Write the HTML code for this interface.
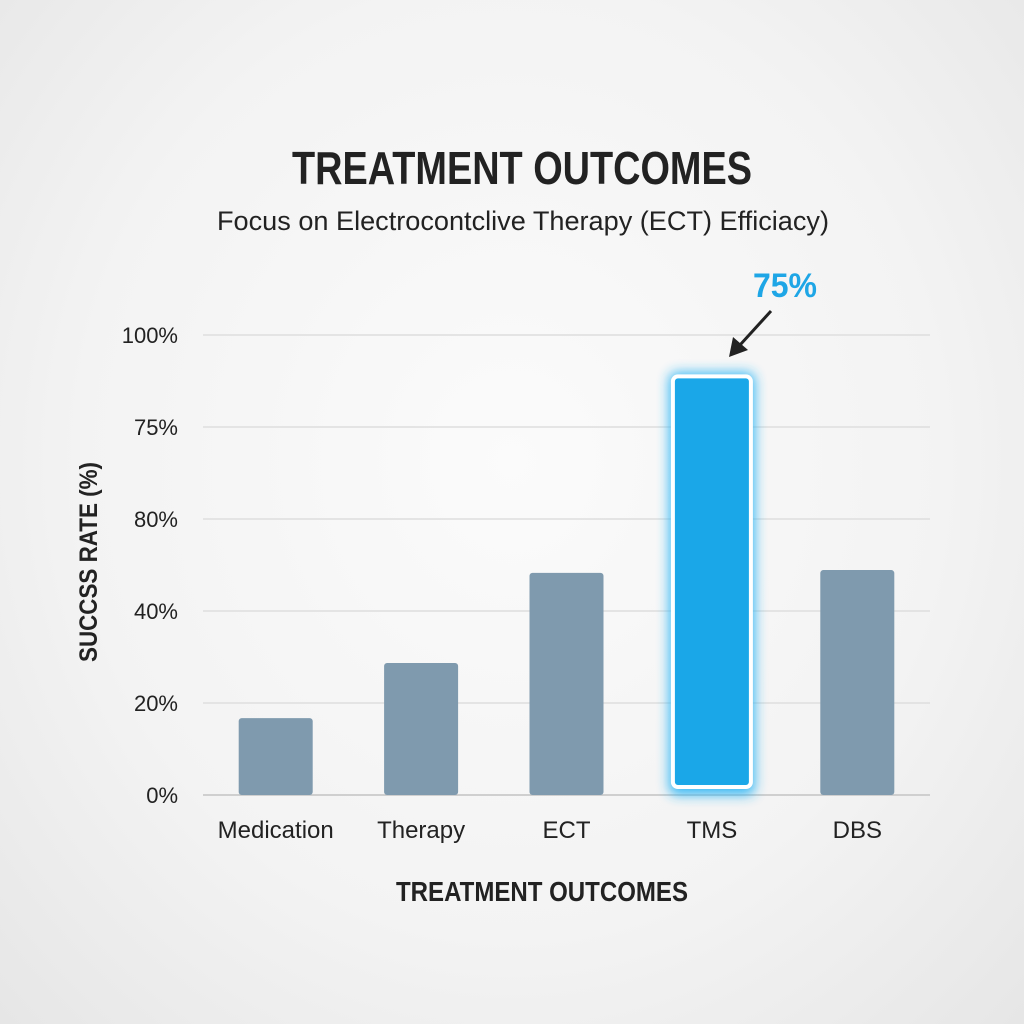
<!DOCTYPE html>
<html><head><meta charset="utf-8"><style>
html,body{margin:0;padding:0}
body{width:1024px;height:1024px;overflow:hidden;background:radial-gradient(ellipse at 50% 45%,#fbfbfb 0%,#f3f3f3 60%,#e6e6e6 100%);font-family:"Liberation Sans",sans-serif;}
svg{position:absolute;left:0;top:0}
</style></head><body>
<svg id="chart" width="1024" height="1024">
<defs><filter id="glow" x="-50%" y="-20%" width="200%" height="140%"><feGaussianBlur stdDeviation="6"/></filter></defs>
<text x="522" y="184" text-anchor="middle" font-size="46" font-weight="bold" fill="#222" textLength="460" lengthAdjust="spacingAndGlyphs">TREATMENT OUTCOMES</text>
<text x="523" y="230" text-anchor="middle" font-size="27" fill="#222" textLength="612" lengthAdjust="spacingAndGlyphs">Focus on Electrocontclive Therapy (ECT) Efficiacy)</text>
<text x="97" y="562" text-anchor="middle" font-size="25" font-weight="bold" fill="#222" textLength="200" lengthAdjust="spacingAndGlyphs" transform="rotate(-90 97 562)">SUCCSS RATE (%)</text>
<text x="542" y="901" text-anchor="middle" font-size="28" font-weight="bold" fill="#222" textLength="292" lengthAdjust="spacingAndGlyphs">TREATMENT OUTCOMES</text>
<g id="grid"></g><g id="bars"></g><g id="labels"></g>
<text x="785" y="297" text-anchor="middle" font-size="34" font-weight="bold" fill="#1ea6e6" textLength="64" lengthAdjust="spacingAndGlyphs">75%</text>
<g>
<line x1="771" y1="311" x2="740" y2="345" stroke="#222" stroke-width="3"/>
<polygon points="729,357 733,337 748,350" fill="#222"/>
</g>
</svg>
<script>
const categories=["Medication","Therapy","ECT","TMS","DBS"];
const values=[16.7,28.7,48.3,91,48.9];
const tickValues=[0,20,40,60,80,100];
const tickLabels=["0%","20%","40%","80%","75%","100%"];
const highlightIndex=3;
const ns="http://www.w3.org/2000/svg";
const x0=203,x1=930,yBase=795,yTop=335;
const band=(x1-x0)/categories.length;
function xPos(i){return x0+band*i+band/2;}
function yPos(v){return yBase-(v/100)*(yBase-yTop);}
function mk(t,a){const e=document.createElementNS(ns,t);for(const k in a)e.setAttribute(k,a[k]);return e;}
const grid=document.getElementById('grid'),bars=document.getElementById('bars'),labels=document.getElementById('labels');
tickValues.forEach((v,i)=>{
 const y=yPos(v);
 const l=mk('line',{x1:x0,x2:x1,y1:y,y2:y,stroke:i==0?'#cfcfcf':'#dedede','stroke-width':i==0?2:1.5});
 
 
 grid.appendChild(l);
 const t=mk('text',{x:178,y:y+8,'text-anchor':'end','font-size':22,fill:'#222'});
 t.textContent=tickLabels[i];
 
 
 labels.appendChild(t);
});
categories.forEach((c,i)=>{
 const cx=xPos(i),y=yPos(values[i]);
 if(i===highlightIndex){
  const w=78;
  const g=mk('rect',{x:cx-w/2-4,y:y-4,width:w+8,height:yBase-y+4,rx:8,fill:'#28b4f5',filter:'url(#glow)',opacity:0.9});
  
  
  bars.appendChild(g);
  const r=mk('rect',{x:cx-w/2,y:y,width:w,height:yBase-y-8,rx:5,fill:'#1aa7e8',stroke:'#fff','stroke-width':4});
  
  
  bars.appendChild(r);
 } else {
  const w=74;
  const r=mk('rect',{x:cx-w/2,y:y,width:w,height:yBase-y,rx:3,fill:'#7f9aae'});
  
  
  bars.appendChild(r);
 }
 const t=mk('text',{x:cx,y:838,'text-anchor':'middle','font-size':24,fill:'#222'});
 t.textContent=c;
 
 
 labels.appendChild(t);
});
</script>
</body></html>
